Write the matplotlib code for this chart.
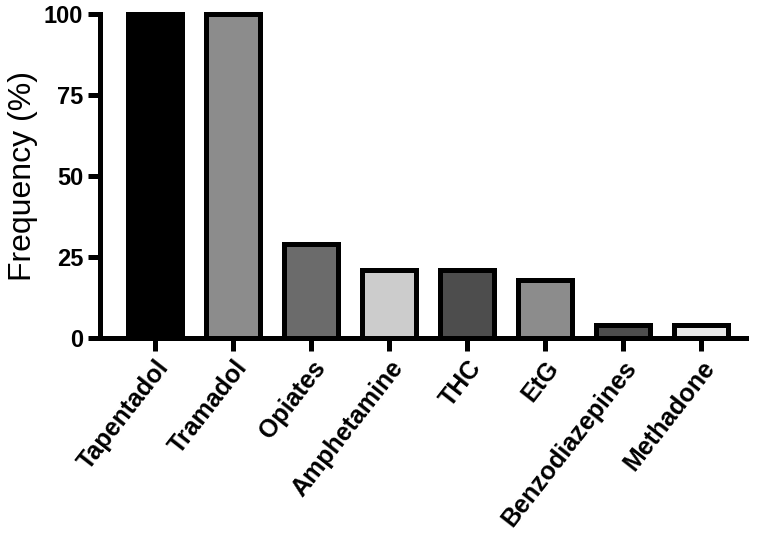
import matplotlib

matplotlib.use("Agg")
import matplotlib.pyplot as plt

drugs = ["Tapentadol", "Tramadol", "Opiates", "Amphetamine", "THC", "EtG",
         "Benzodiazepines", "Methadone"]
freq = [100, 100, 29, 21, 21, 18, 4, 4]
fills = ["#000000", "#8c8c8c", "#6b6b6b", "#cccccc", "#4d4d4d", "#8c8c8c",
         "#4d4d4d", "#e8e8e8"]
yticks = [0, 25, 50, 75, 100]

plt.rcParams["font.family"] = ["Liberation Sans", "DejaVu Sans"]

fig = plt.figure(figsize=(7.6, 5.41), dpi=100)
ax = fig.add_axes([0.1316, 0.3752, 0.85, 0.5988])

x = list(range(len(drugs)))
bars = ax.bar(x, freq, width=0.69, color=fills, edgecolor="black", linewidth=3.6,
              zorder=3)
for b in bars:
    b.set_clip_on(False)

ax.set_xlim(-0.705, 7.58)
ax.set_ylim(0, 100)
ax.set_yticks(yticks)
ax.set_yticklabels([str(t) for t in yticks], fontsize=17, fontweight="bold")
ax.set_xticks(x)
ax.set_xticklabels(drugs, rotation=52, ha="right", rotation_mode="anchor",
                   fontsize=18, fontweight="bold")
ax.set_ylabel("Frequency (%)", fontsize=23, labelpad=4)

for side in ["top", "right"]:
    ax.spines[side].set_visible(False)
for side in ["left", "bottom"]:
    ax.spines[side].set_linewidth(3.6)
ax.tick_params(axis="both", width=3.6, length=9, pad=3)
ax.tick_params(axis="x", pad=4)

fig.savefig("out.png", dpi=100)
